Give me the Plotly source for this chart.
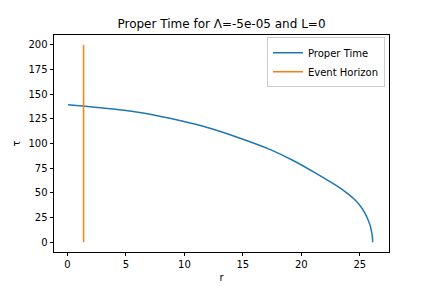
import plotly.graph_objects as go

# Proper time curve
r_vals = [0.05, 1.33, 3.9, 6.47, 8.75, 11.6, 14.46, 17.3, 19.3, 21.3,
          23.3, 23.94, 24.58, 25.0, 25.43, 25.86, 26.0, 26.05, 26.09, 26.1]
tau_vals = [139.4, 138.1, 135.0, 131.0, 125.6, 117.4, 106.6, 94.0, 82.8, 69.5,
            55.1, 49.4, 42.9, 37.4, 29.7, 18.0, 11.2, 8.0, 3.6, 0.0]

# Event horizon
horizon_r = [1.38, 1.38]
horizon_tau = [0, 200]

x_ticks = [0, 5, 10, 15, 20, 25]
y_ticks = [0, 25, 50, 75, 100, 125, 150, 175, 200]

title_text = "Proper Time for Λ=-5e-05 and L=0"

fig = go.Figure()
fig.add_trace(go.Scatter(x=r_vals, y=tau_vals, mode="lines", name="Proper Time",
                         line=dict(color="#1f77b4", width=1.5, shape="spline", smoothing=1.0)))
fig.add_trace(go.Scatter(x=horizon_r, y=horizon_tau, mode="lines", name="Event Horizon",
                         line=dict(color="#ff7f0e", width=1.5)))

axis_common = dict(showgrid=False, zeroline=False, showline=True, linecolor="black",
                   linewidth=0.8, mirror=True, ticks="outside", ticklen=3.5,
                   tickwidth=0.8, tickcolor="black", automargin=False,
                   tickfont=dict(size=10, color="black"))

fig.update_layout(
    width=432, height=288,
    margin=dict(l=54, r=43, t=35, b=36, autoexpand=False),
    paper_bgcolor="white", plot_bgcolor="white",
    font=dict(family="DejaVu Sans", size=10, color="black"),
    title=dict(text=title_text, x=(54 + 389) / 2 / 432, xanchor="center",
               y=1 - 24 / 288, yanchor="middle",
               font=dict(size=12, color="black", family="DejaVu Sans")),
    xaxis=dict(range=[-1.15, 27.5], tickvals=x_ticks,
               title=dict(text="r", font=dict(size=10, color="black"), standoff=4),
               **axis_common),
    yaxis=dict(range=[-10, 210], tickvals=y_ticks,
               title=dict(text="τ", font=dict(size=10, color="black"), standoff=6),
               **axis_common),
    legend=dict(x=0.988, xanchor="right", y=0.99, yanchor="top",
                bordercolor="#cccccc", borderwidth=1, bgcolor="rgba(255,255,255,0.8)",
                font=dict(size=10, color="black"), tracegroupgap=0, itemwidth=30),
    showlegend=True,
)

fig.write_html("out.html", config={"displayModeBar": False},
               post_script="document.body.style.margin='0';")
